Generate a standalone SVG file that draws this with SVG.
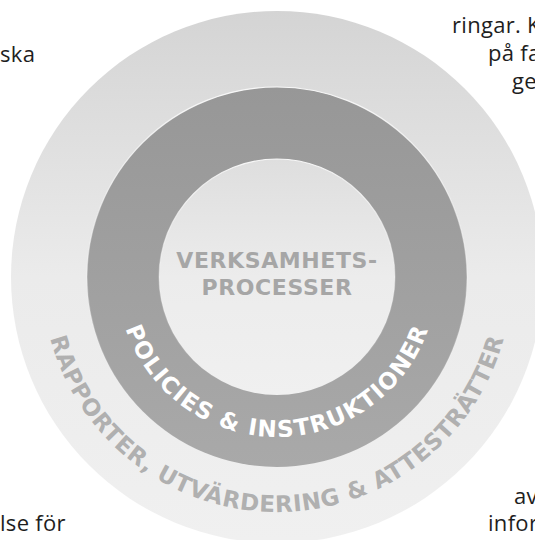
<svg xmlns="http://www.w3.org/2000/svg" width="535" height="540" viewBox="0 0 535 540">
  <defs>
    <linearGradient id="gOuter" x1="0" y1="0" x2="0" y2="1">
      <stop offset="0" stop-color="#d4d4d4"/>
      <stop offset="0.5" stop-color="#ebebeb"/>
      <stop offset="1" stop-color="#f0f0f0"/>
    </linearGradient>
    <linearGradient id="gMid" x1="0" y1="0" x2="0" y2="1">
      <stop offset="0" stop-color="#979797"/>
      <stop offset="1" stop-color="#a9a9a9"/>
    </linearGradient>
    <linearGradient id="gInner" x1="0" y1="0" x2="0" y2="1">
      <stop offset="0" stop-color="#dedede"/>
      <stop offset="0.5" stop-color="#ececec"/>
      <stop offset="1" stop-color="#f0f0f0"/>
    </linearGradient>
    <linearGradient id="gEdge" x1="0" y1="0" x2="0" y2="1">
      <stop offset="0" stop-color="#ffffff" stop-opacity="0.9"/>
      <stop offset="0.5" stop-color="#ffffff" stop-opacity="0.3"/>
      <stop offset="1" stop-color="#ffffff" stop-opacity="0"/>
    </linearGradient>
    <path id="midArc" d="M 117 277 A 160 160 0 0 0 437 277"/>
    <path id="outerArc" d="M 42 277 A 235 235 0 0 0 512 277"/>
  </defs>
  <style>
    .body { font-family: "Open Sans", "Noto Sans", "DejaVu Sans", sans-serif; font-size: 22px; letter-spacing: 0.3px; fill: #1e1e1e; }
    .center { font-family: "DejaVu Sans", "Liberation Sans", sans-serif; font-weight: bold; font-size: 22px; fill: #a6a6a6; letter-spacing: 0.6px; text-anchor: middle; }
    .mid { font-family: "DejaVu Sans", "Liberation Sans", sans-serif; font-weight: bold; font-size: 23px; fill: #ffffff; letter-spacing: 1.4px; }
    .outer { font-family: "DejaVu Sans", "Liberation Sans", sans-serif; font-weight: bold; font-size: 23px; fill: #b0b0b0; letter-spacing: 0.7px; }
  </style>

  <g id="outer-ring">
    <circle cx="277" cy="277" r="266" fill="url(#gOuter)"/>
    <text class="outer"><textPath href="#outerArc" startOffset="50%" text-anchor="middle">RAPPORTER, UTVÄRDERING &amp; ATTESTRÄTTER</textPath></text>
  </g>

  <g id="middle-ring">
    <circle cx="277" cy="277" r="190" fill="url(#gMid)" stroke="url(#gEdge)" stroke-width="1.2"/>
    <text class="mid"><textPath href="#midArc" startOffset="50%" text-anchor="middle">POLICIES &amp; INSTRUKTIONER</textPath></text>
  </g>

  <g id="inner-circle">
    <circle cx="277" cy="277" r="118" fill="url(#gInner)" stroke="url(#gEdge)" stroke-width="1.2"/>
    <text class="center" x="277" y="268">VERKSAMHETS-</text>
    <text class="center" x="277" y="295">PROCESSER</text>
  </g>

  <g id="body-text">
    <text class="body" x="0" y="62">ska</text>
    <text class="body" x="452" y="33">ringar. K</text>
    <text class="body" x="488" y="61">på fa</text>
    <text class="body" x="512" y="89">ge</text>
    <text class="body" x="0" y="531">lse för</text>
    <text class="body" x="514" y="504">av</text>
    <text class="body" x="488" y="531">infor</text>
  </g>
</svg>
